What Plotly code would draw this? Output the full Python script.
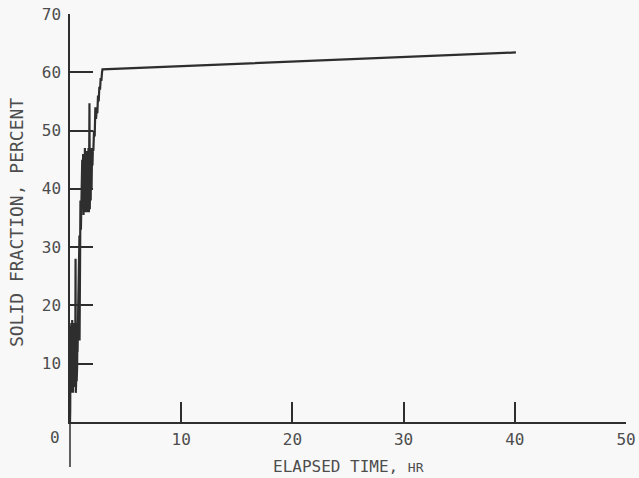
import plotly.graph_objects as go

# Elapsed time, hr
elapsed_hr = [0.0, 0.02, 0.04, 0.06, 0.08, 0.10, 0.12, 0.14, 0.16, 0.18,
              0.20, 0.22, 0.24, 0.26, 0.28, 0.30, 0.32, 0.34, 0.36, 0.38,
              0.40, 0.42, 0.44, 0.46, 0.48, 0.50, 0.52, 0.54, 0.56, 0.58,
              0.60, 0.62, 0.64, 0.66, 0.68, 0.70, 0.74, 0.78, 0.82, 0.85,
              0.86, 0.90, 0.94, 0.98, 1.02, 1.06, 1.10, 1.14, 1.18, 1.22,
              1.26, 1.30, 1.34, 1.38, 1.42, 1.46, 1.50, 1.54, 1.58, 1.62,
              1.66, 1.70, 1.75, 1.78, 1.82, 1.86, 1.90, 1.94, 1.98, 2.02,
              2.06, 2.10, 2.16, 2.22, 2.28, 2.34, 2.40, 2.46, 2.52, 2.58,
              2.64, 2.70, 2.76, 2.82, 2.88, 2.92, 40.1]
# Solid fraction, percent
solid_pct = [0.0, 2.0, 12.0, 5.5, 16.5, 5.0, 17.0, 6.5, 15.5, 5.5,
             17.5, 7.0, 16.0, 5.0, 14.5, 6.5, 17.0, 6.0, 15.0, 8.0,
             16.5, 6.0, 17.0, 9.0, 15.5, 28.0, 5.0, 16.0, 7.5, 17.0,
             7.0, 15.0, 9.5, 14.0, 12.0, 14.5, 20.0, 29.0, 25.0, 32.0,
             14.0, 30.0, 38.0, 33.0, 40.0, 36.0, 45.0, 37.0, 46.0, 35.5,
             44.0, 38.0, 47.0, 36.0, 45.0, 37.5, 46.5, 36.0, 44.5, 38.0,
             47.0, 36.0, 54.7, 36.5, 46.0, 38.0, 47.0, 40.0, 46.0, 44.0,
             47.0, 46.5, 50.0, 49.0, 54.0, 52.0, 53.5, 53.0, 56.0, 55.0,
             57.5, 57.0, 59.0, 58.5, 60.0, 60.5, 63.4]

x_ticks = [10, 20, 30, 40, 50]
y_ticks = [10, 20, 30, 40, 50, 60, 70]

ink = "#2e2e2e"
txt = "#4d4d4d"
font = "DejaVu Sans Mono"

fig = go.Figure()
fig.add_trace(go.Scatter(
    x=elapsed_hr, y=solid_pct, mode="lines",
    line=dict(color=ink, width=2.2),
    showlegend=False, hoverinfo="skip",
))

fig.update_layout(
    width=639, height=478,
    margin=dict(l=70, r=13, t=14, b=56, autoexpand=False),
    paper_bgcolor="#f8f8f8", plot_bgcolor="#f8f8f8",
    font=dict(family=font, size=16, color=txt),
    xaxis=dict(range=[0, 50], tickvals=x_ticks, ticktext=[str(v) for v in x_ticks],
               ticks="inside", ticklen=20, tickwidth=1.5, tickcolor=ink,
               showline=True, linecolor=ink, linewidth=1.5, automargin=False,
               showgrid=False, zeroline=False, ticklabelstandoff=2),
    yaxis=dict(range=[0, 70], tickvals=y_ticks, ticktext=[str(v) for v in y_ticks],
               ticks="inside", ticklen=23, tickwidth=1.5, tickcolor=ink,
               showline=True, linecolor=ink, linewidth=1.5, automargin=False,
               showgrid=False, zeroline=False, ticklabelstandoff=4),
    shapes=[dict(type="line", xref="paper", yref="paper", x0=0, x1=0,
                 y0=0, y1=-0.11, line=dict(color=ink, width=1.5))],
    annotations=[
        dict(text="0", xref="paper", yref="paper", x=-0.027, y=-0.039,
             showarrow=False, xanchor="center", yanchor="middle",
             font=dict(family=font, size=16, color=txt)),
        dict(text="ELAPSED TIME, <span style='font-size:13px'>HR</span>",
             xref="paper", yref="paper", x=0.5, y=-0.108,
             showarrow=False, xanchor="center", yanchor="middle",
             font=dict(family=font, size=16, color=txt)),
        dict(text="SOLID FRACTION, PERCENT", xref="paper", yref="paper",
             x=-0.095, y=0.488, textangle=-90, showarrow=False,
             xanchor="center", yanchor="middle",
             font=dict(family=font, size=18, color=txt)),
    ],
)

fig.write_html("out.html", config={"displayModeBar": False},
               post_script="document.body.style.margin='0';document.body.style.overflow='hidden';")
